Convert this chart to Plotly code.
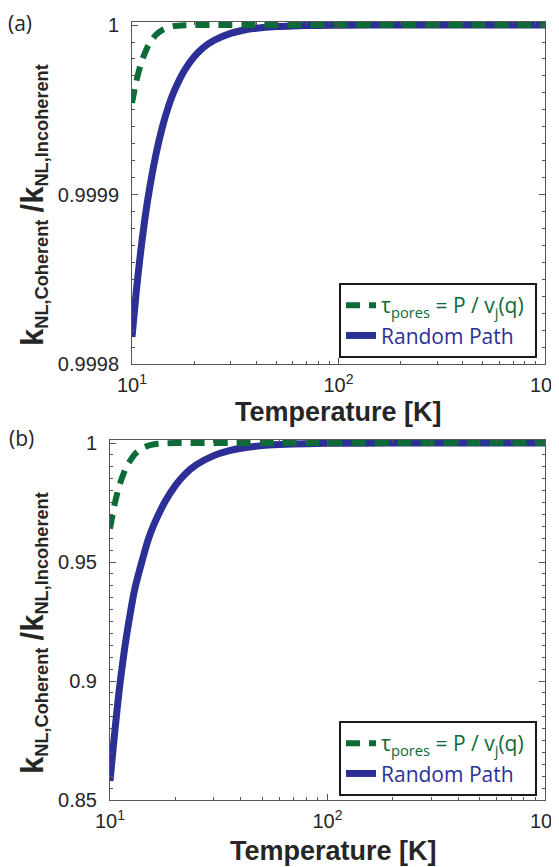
import plotly.graph_objects as go

# ---------------- data ----------------
T = [10, 10.5, 11, 11.5, 12, 13, 14, 15, 16, 18, 20, 22, 25, 30, 35, 40,
     50, 60, 80, 100, 200, 500, 1000]

random_a = [0.999816, 0.9998434, 0.9998657, 0.9998841, 0.9998992, 0.9999225,
            0.9999394, 0.9999518, 0.999961, 0.9999735, 0.9999813, 0.9999864,
            0.999991, 0.9999951, 0.9999971, 0.9999981, 0.9999991, 0.9999995,
            0.9999998, 0.9999999, 1.0, 1.0, 1.0]
pores_a = [0.999954, 0.999967, 0.9999765, 0.999983, 0.999988, 0.999994,
           0.999997, 0.9999986, 0.9999994, 0.9999999, 1.0, 1.0, 1.0, 1.0,
           1.0, 1.0, 1.0, 1.0, 1.0, 1.0, 1.0, 1.0, 1.0]

random_b = [0.858, 0.878, 0.8954, 0.9093, 0.9208, 0.9387, 0.950, 0.9595,
            0.9662, 0.9757, 0.9822, 0.9867, 0.9909, 0.9947, 0.9967, 0.9978,
            0.9989, 0.99934, 0.99972, 0.99986, 0.99998, 1.0, 1.0]
pores_b = [0.964, 0.9742, 0.9816, 0.9867, 0.9906, 0.9953, 0.9977, 0.9989,
           0.9995, 0.9999, 1.0, 1.0, 1.0, 1.0, 1.0, 1.0, 1.0, 1.0, 1.0,
           1.0, 1.0, 1.0, 1.0]

x_tickvals = [10, 100, 1000]
x_ticktext = ["10<sup>1</sup>", "10<sup>2</sup>", "10<sup>3</sup>"]
x_minor = [20, 30, 40, 50, 60, 70, 80, 90, 200, 300, 400, 500, 600, 700, 800, 900]

ya_tickvals = [0.9998, 0.9999, 1.0]
ya_ticktext = ["0.9998", "0.9999", "1"]
yb_tickvals = [0.85, 0.9, 0.95, 1.0]
yb_ticktext = ["0.85", "0.9", "0.95", "1"]

name_pores = "τ<sub>pores</sub> = P / v<sub>j</sub>(q)"
name_random = "Random Path"

BLUE = "#2c3096"
GREEN = "#0d6b37"
AX = "#555555"
TXT = "#262626"

# the page body has an 8px margin: the figure is drawn 8px in from the corner
OFF = 8
W, H = 559 - OFF, 867 - OFF
def fx(p):
    return (p - OFF) / W
def fy(p):
    return 1 - (p - OFF) / H

fig = go.Figure()

NB = "\u00a0"
for (xa, ya, rnd, prs, leg) in [("x", "y", random_a, pores_a, "legend"),
                                ("x2", "y2", random_b, pores_b, "legend2")]:
    fig.add_trace(go.Scatter(x=T, y=rnd, mode="lines", xaxis=xa, yaxis=ya,
                             name=f"<span style='color:{BLUE}'>{name_random}</span>{NB}",
                             line=dict(color=BLUE, width=7, shape="spline",
                                       smoothing=0.6), legend=leg))
    fig.add_trace(go.Scatter(x=T, y=prs, mode="lines", xaxis=xa, yaxis=ya,
                             name=f"<span style='color:{GREEN}'>{name_pores}</span>{NB}",
                             line=dict(color=GREEN, width=6, dash="14px,9px",
                                       shape="spline", smoothing=0.6),
                             legend=leg))

tickfont = dict(family="Liberation Sans, Arial, sans-serif", size=20, color=TXT)

def xaxis(dom, anchor):
    return dict(domain=dom, anchor=anchor, type="log", range=[1, 3],
                tickvals=x_tickvals, ticktext=x_ticktext, tickfont=tickfont,
                ticks="inside", ticklen=6, tickcolor=AX, tickwidth=1,
                minor=dict(tickvals=x_minor, ticks="inside", ticklen=3,
                           tickcolor=AX, tickwidth=1),
                showline=True, linecolor=AX, linewidth=1, mirror="ticks",
                showgrid=False, zeroline=False, ticklabelstandoff=3,
                ticklabeloverflow="allow", automargin=False)

def yaxis(dom, anchor, rng, tv, tt, mdt):
    return dict(domain=dom, anchor=anchor, range=rng, tickvals=tv, ticktext=tt,
                tickfont=tickfont, ticks="inside", ticklen=6, tickcolor=AX,
                tickwidth=1,
                minor=dict(dtick=mdt, tick0=1.0, ticks="inside", ticklen=3,
                           tickcolor=AX, tickwidth=1),
                showline=True, linecolor=AX, linewidth=1, mirror="ticks",
                showgrid=False, zeroline=False, ticklabelstandoff=8,
                ticklabeloverflow="allow", automargin=False)

legstyle = dict(font=dict(family="Open Sans, sans-serif", size=21),
                bgcolor="white", bordercolor="#1a1a1a", borderwidth=2,
                xanchor="right", yanchor="bottom", traceorder="reversed",
                itemclick=False)

ytitle = ("<b><span style='font-size:31px'>k</span><sub>NL,Coherent</sub> "
          "<span style='font-size:31px'>/k</span><sub>NL,Incoherent</sub></b>")
ytfont = dict(family="Liberation Sans, Arial, sans-serif", size=26, color=TXT)
xtfont = dict(family="Liberation Sans, Arial, sans-serif", size=27, color=TXT)
plfont = dict(family="Open Sans, sans-serif", size=21, color=TXT)

def ann(text, xp, yp, font, angle=0):
    return dict(text=text, x=fx(xp), y=fy(yp), xref="paper", yref="paper",
                xanchor="center", yanchor="middle", showarrow=False,
                font=font, textangle=angle)

fig.update_layout(
    width=W, height=H,
    margin=dict(l=0, r=0, t=0, b=0, pad=0, autoexpand=False),
    paper_bgcolor="white", plot_bgcolor="white",
    xaxis=xaxis([fx(132), fx(545)], "y"),
    yaxis=yaxis([fy(364), fy(22)], "x", [0.9998, 1.0000018],
                ya_tickvals, ya_ticktext, 0.00001),
    xaxis2=xaxis([fx(110), fx(545)], "y2"),
    yaxis2=yaxis([fy(800), fy(440)], "x2", [0.85, 1.00126],
                 yb_tickvals, yb_ticktext, 0.005),
    legend=dict(x=fx(537), y=fy(358), **legstyle),
    legend2=dict(x=fx(537), y=fy(796), **legstyle),
    annotations=[
        ann("(a)", 20, 23, plfont),
        ann("(b)", 21, 438, plfont),
        ann("<b>Temperature [K]</b>", 338, 412, xtfont),
        ann("<b>Temperature [K]</b>", 333, 851, xtfont),
        ann(ytitle, 33, 205, ytfont, -90),
        ann(ytitle, 33, 633, ytfont, -90),
    ],
)

fig.write_html("out.html")
